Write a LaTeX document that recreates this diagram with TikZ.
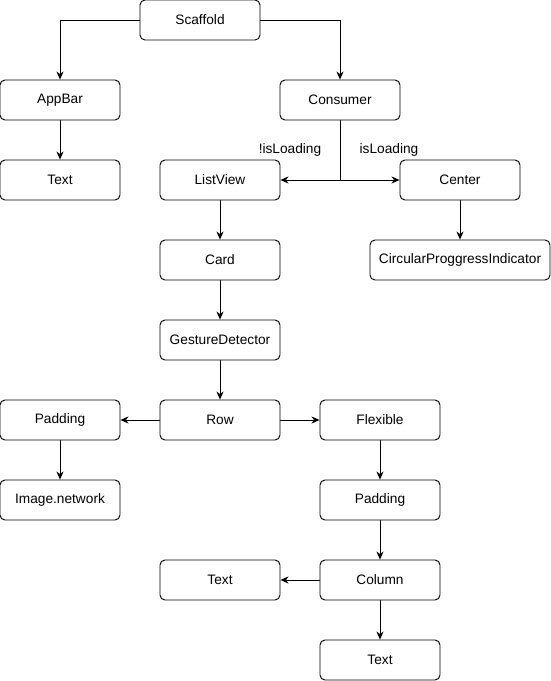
\documentclass[tikz,border=0pt]{standalone}
\usepackage{fontspec}
\setmainfont{Liberation Sans}
\usetikzlibrary{arrows.meta}
\begin{document}
\begin{tikzpicture}[x=1pt,y=-1pt,
  box/.style={draw, rounded corners=5pt, minimum width=120pt, minimum height=40pt,
    inner sep=0pt, font=\fontsize{13.7}{16}\selectfont, line width=0.9pt},
  wide/.style={box, minimum width=180pt},
  link/.style={line width=0.9pt, -{Stealth[length=8pt,width=7pt,inset=2.5pt]}},
  tag/.style={font=\fontsize{13.7}{16}\selectfont, inner sep=0pt}]
\useasboundingbox (0,0) rectangle (551,681);

% widget tree nodes
\node[box] (scaffold) at (200,20) {Scaffold};
\node[box] (appbar) at (60,100) {AppBar};
\node[box] (consumer) at (340,100) {Consumer};
\node[box] (bartext) at (60,180) {Text};
\node[box] (listview) at (220,180) {ListView};
\node[box] (center) at (460,180) {Center};
\node[box] (card) at (220,260) {Card};
\node[wide] (progress) at (460,260) {CircularProggressIndicator};
\node[box] (gesture) at (220,340) {GestureDetector};
\node[box] (padleft) at (60,420) {Padding};
\node[box] (row) at (220,420) {Row};
\node[box] (flexible) at (380,420) {Flexible};
\node[box] (image) at (60,500) {Image.network};
\node[box] (padright) at (380,500) {Padding};
\node[box] (coltext) at (220,580) {Text};
\node[box] (column) at (380,580) {Column};
\node[box] (bottomtext) at (380,660) {Text};

% branch point under Consumer
\coordinate (split) at (340,180);

% connectors
\draw[link] (scaffold.west) -| (appbar.north);
\draw[link] (scaffold.east) -| (consumer.north);
\draw[link] (appbar) -- (bartext);
\draw[line width=0.9pt] (consumer.south) -- (split);
\draw[link] (split) -- (listview.east);
\draw[link] (split) -- (center.west);
\draw[link] (center) -- (progress);
\draw[link] (listview) -- (card);
\draw[link] (card) -- (gesture);
\draw[link] (gesture) -- (row);
\draw[link] (row) -- (padleft);
\draw[link] (row) -- (flexible);
\draw[link] (padleft) -- (image);
\draw[link] (flexible) -- (padright);
\draw[link] (padright) -- (column);
\draw[link] (column) -- (coltext);
\draw[link] (column) -- (bottomtext);

% branch labels
\node[tag] (notloading) at (290,150) {!isLoading};
\node[tag] (loading) at (389,150) {isLoading};
\end{tikzpicture}
\end{document}
